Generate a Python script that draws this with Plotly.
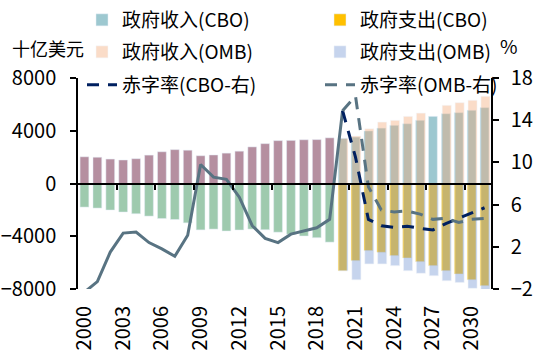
import plotly.graph_objects as go

# ---------------- data ----------------
hist_years = list(range(2000, 2020))
hist_rev = [2025, 1991, 1853, 1782, 1880, 2153, 2406, 2568, 2524, 2105,
            2163, 2303, 2450, 2775, 3021, 3250, 3268, 3316, 3329, 3463]
hist_out = [-1789, -1863, -2011, -2160, -2293, -2472, -2655, -2729, -2983, -3518,
            -3457, -3603, -3527, -3455, -3506, -3692, -3853, -3982, -4109, -4447]
hist_def_years = list(range(2000, 2021))
hist_def = [-2.3, -1.3, 1.5, 3.3, 3.4, 2.4, 1.8, 1.1, 3.1, 9.8,
            8.6, 8.4, 6.7, 4.0, 2.8, 2.4, 3.2, 3.5, 3.8, 4.6, 14.9]

proj_years = list(range(2020, 2032))
cbo_rev = [3420, 3520, 3980, 4200, 4410, 4530, 4790, 5090, 5290, 5370, 5550, 5750]
cbo_out = [-6610, -5850, -5090, -5220, -5470, -5650, -5930, -6230, -6610, -6860, -7300, -7750]
cbo_def = [14.9, 10.5, 4.6, 4.0, 3.85, 3.95, 3.75, 3.6, 4.2, 4.7, 5.2, 5.7]
omb_rev = [3420, 3600, 4150, 4660, 4790, 5090, 5340, None, 5930, 6130, 6310, 6610]
omb_out = [-6610, -7300, -6100, -6100, -6230, -6610, -6810, -6990, -7370, -7500, -7950, -8150]
omb_def = [14.9, 16.3, 7.7, 5.5, 5.3, 5.4, 5.1, 4.6, 4.7, 4.3, 4.6, 4.7]

label_years = list(range(2000, 2031, 3))
left_ticks = [-8000, -4000, 0, 4000, 8000]
right_ticks = [-2, 2, 6, 10, 14, 18]

FONT = "Noto Sans CJK SC, Noto Sans, sans-serif"
C_TEAL = "#9DC8D0"
C_GOLD = "#FFC000"
C_ORANGE = "#F4AA78"
C_BLUE = "#8FAADC"
C_MAUVE = "#B58FA0"
C_GREEN = "#9ECAAE"
C_NAVY = "#002060"
C_SLATE = "#587382"

fig = go.Figure()

# historical bars (no legend)
fig.add_trace(go.Bar(x=hist_years, y=hist_rev, marker_color=C_MAUVE, width=0.68,
                     showlegend=False))
fig.add_trace(go.Bar(x=hist_years, y=hist_out, marker_color=C_GREEN, width=0.68,
                     showlegend=False))

# CBO projections
fig.add_trace(go.Bar(x=proj_years, y=cbo_rev, name="政府收入(CBO)", marker_color=C_TEAL,
                     width=0.68, legend="legend"))
fig.add_trace(go.Bar(x=proj_years, y=cbo_out, name="政府支出(CBO)", marker_color=C_GOLD,
                     width=0.68, legend="legend2"))
# OMB projections (semi-transparent, drawn on top)
fig.add_trace(go.Bar(x=proj_years, y=omb_rev, name="政府收入(OMB)", marker_color=C_ORANGE,
                     opacity=0.4, width=0.7, offset=-0.28, legend="legend3"))
fig.add_trace(go.Bar(x=proj_years, y=omb_out, name="政府支出(OMB)", marker_color=C_BLUE,
                     opacity=0.5, width=0.7, offset=-0.28, legend="legend4"))

# deficit lines (right axis)
fig.add_trace(go.Scatter(x=hist_def_years, y=hist_def, mode="lines", xaxis="x2", yaxis="y2",
                         line=dict(color=C_SLATE, width=3), showlegend=False))
fig.add_trace(go.Scatter(x=proj_years, y=cbo_def, mode="lines", xaxis="x2", yaxis="y2",
                         name="赤字率(CBO-右)", legend="legend5",
                         line=dict(color=C_NAVY, width=3, dash="12px,9px")))
fig.add_trace(go.Scatter(x=proj_years, y=omb_def, mode="lines", xaxis="x2", yaxis="y2",
                         name="赤字率(OMB-右)", legend="legend6",
                         line=dict(color=C_SLATE, width=3, dash="12px,9px")))

xr = [1999.5, 2031.5]
W, H = 537, 356


def leg(px, py):
    return dict(orientation="h", xref="container", yref="container",
                x=px / W, y=1 - py / H, xanchor="left", yanchor="middle",
                bgcolor="rgba(0,0,0,0)", borderwidth=0,
                font=dict(family=FONT, size=19, color="#000"))


COL1, COL2 = 82, 320
ROW1, ROW2, ROW3 = 20, 52, 85

fig.update_layout(
    width=W, height=H,
    margin=dict(l=78, r=46, t=78, b=67, autoexpand=False),
    paper_bgcolor="white", plot_bgcolor="white",
    barmode="overlay",
    font=dict(family=FONT, size=20, color="#000"),
    xaxis=dict(range=xr, tickvals=label_years, ticktext=[str(y) for y in label_years],
               tickangle=-90, showline=False, showgrid=False, zeroline=False,
               ticks="outside", ticklen=8, tickcolor="rgba(0,0,0,0)",
               tickfont=dict(family=FONT, size=20, color="#000")),
    xaxis2=dict(range=xr, overlaying="x", anchor="free", position=0.5,
                showline=True, linecolor="#000", linewidth=1.5,
                ticks="outside", ticklen=6, tickwidth=1.5, tickcolor="#000",
                tickvals=[1999.5 + 3 * k for k in range(1, 11)],
                showticklabels=False, showgrid=False, zeroline=False),
    yaxis=dict(range=[-8000, 8000], tickvals=left_ticks, showline=True, linecolor="#000",
               linewidth=1.5, ticks="outside", ticklen=6, tickwidth=1.5, tickcolor="#000",
               showgrid=False, zeroline=False, ticklabelstandoff=10,
               tickfont=dict(family=FONT, size=20, color="#000")),
    yaxis2=dict(range=[-2, 18], tickvals=right_ticks, overlaying="y", side="right",
                anchor="x", showline=True, linecolor="#000", linewidth=1.5,
                ticks="outside", ticklen=6, tickwidth=1.5, tickcolor="#000",
                showgrid=False, zeroline=False, ticklabelstandoff=8,
                tickfont=dict(family=FONT, size=20, color="#000")),
    legend=leg(COL1, ROW1),
    legend2=leg(COL2, ROW1),
    legend3=leg(COL1, ROW2),
    legend4=leg(COL2, ROW2),
    legend5=leg(COL1, ROW3),
    legend6=leg(COL2, ROW3),
    annotations=[
        dict(text="十亿美元", xref="paper", yref="paper", x=-0.165, y=1.142,
             xanchor="left", yanchor="middle", showarrow=False,
             font=dict(family=FONT, size=18, color="#000")),
        dict(text="%", xref="paper", yref="paper", x=1.044, y=1.156,
             xanchor="center", yanchor="middle", showarrow=False,
             font=dict(family=FONT, size=19, color="#000")),
    ],
)

fig.write_html("out.html", config={"displayModeBar": False},
               post_script="document.body.style.margin='0';document.body.style.padding='0';")
